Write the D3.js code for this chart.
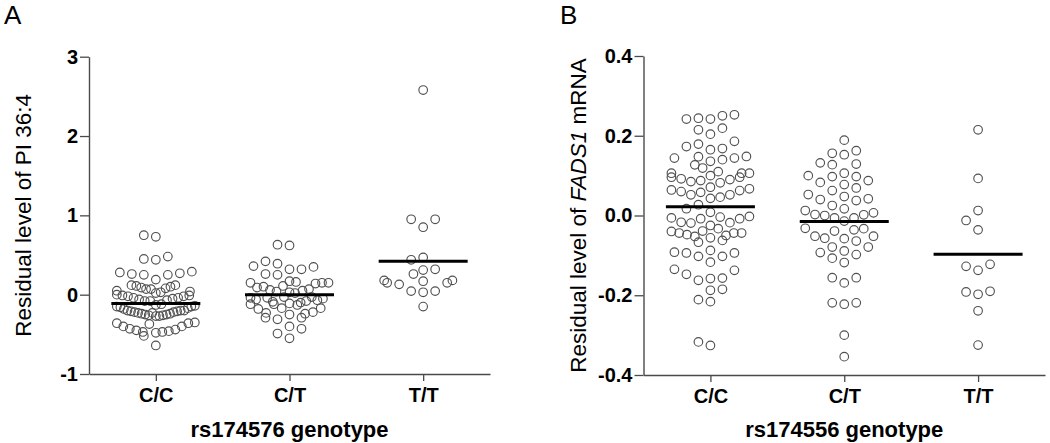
<!DOCTYPE html>
<html>
<head>
<meta charset="utf-8">
<script src="https://cdn.jsdelivr.net/npm/d3@7"></script>
<style>
  html, body { margin: 0; padding: 0; background: #fff; }
  svg { display: block; }
  text { font-family: "Liberation Sans", Arial, sans-serif; }
</style>
</head>
<body>
<svg id="chart" width="1050" height="443"></svg>
<script>
// ---------- data ----------
const categories = ["C/C", "C/T", "T/T"];

// Panel A: residual level of PI 36:4 by rs174576 genotype
const piCC = [
  0.75, 0.73,
  0.48, 0.44, 0.45,
  0.29, 0.27, 0.26, 0.25, 0.25, 0.19, 0.28,
  0.12, 0.11, 0.09, 0.08, 0.07, 0.05, 0.03, 0.02, 0.00, 0.04, 0.07, 0.10, 0.12,
  -0.01, -0.02, -0.04, -0.05, -0.07, -0.08, -0.08, -0.06, -0.04, -0.02, -0.01,
  -0.12, -0.14, -0.15, -0.16, -0.17, -0.18, -0.15, -0.13,
  -0.20, -0.20, -0.21, -0.22, -0.23, -0.24, -0.25, -0.26, -0.27, -0.27, -0.26, -0.25, -0.24, -0.23, -0.22, -0.21, -0.20,
  -0.35, -0.36, -0.40, -0.43, -0.45, -0.47, -0.48, -0.47, -0.46, -0.44, -0.40, -0.37, -0.36,
  -0.52, -0.64
];
const piCT = [
  0.63, 0.62,
  0.42, 0.39, 0.36, 0.35, 0.32, 0.32, 0.26, 0.25,
  0.17, 0.16,
  0.15, 0.15, 0.10, 0.07, 0.05, 0.03, 0.02, 0.04, 0.06, 0.09, 0.11, 0.14, 0.15,
  -0.03, -0.04, -0.05, -0.07, -0.09, -0.11, -0.12, -0.13, -0.12, -0.10, -0.08, -0.06, -0.04, -0.03, -0.17,
  -0.18, -0.23, -0.25, -0.29, -0.31, -0.29, -0.24, -0.22, -0.17,
  -0.43, -0.40,
  -0.55, -0.49
];
const piTT = [
  2.58,
  0.95, 0.95, 0.85,
  0.47, 0.44,
  0.32, 0.26, 0.31,
  0.18, 0.15, 0.13, 0.045, 0.03, 0.045, 0.15, 0.17, 0.18,
  -0.15
];
const piMeans = [-0.11, 0.0, 0.42];
const piTicks = [-1, 0, 1, 2, 3];

// Panel B: residual level of FADS1 mRNA by rs174556 genotype
const fadsCC = [
  0.25, 0.242, 0.242, 0.244, 0.2525,
  0.219, 0.215, 0.204,
  0.179, 0.168, 0.165, 0.173, 0.186,
  0.1475, 0.144, 0.136, 0.119, 0.127, 0.14, 0.144, 0.148,
  0.11, 0.106,
  0.106, 0.1, 0.096, 0.09, 0.085, 0.082, 0.0875, 0.092, 0.096, 0.106,
  0.067, 0.0625, 0.058, 0.052, 0.043, 0.046, 0.052, 0.06, 0.064, 0.071,
  0.027, 0.008, -0.0025, 0.017,
  -0.004, -0.008, -0.017, -0.019, -0.033, -0.025, -0.018, -0.008, -0.006,
  -0.04, -0.044, -0.048, -0.0525, -0.0625, -0.067, -0.056, -0.05, -0.044, -0.044, -0.039,
  -0.0875, -0.092, -0.1025, -0.094, -0.1025, -0.094, -0.117,
  -0.1375, -0.135, -0.1475, -0.1625, -0.158, -0.157,
  -0.185, -0.1875,
  -0.211, -0.216,
  -0.326, -0.317
];
const fadsCT = [
  0.189,
  0.156, 0.1625, 0.1525,
  0.1275, 0.132, 0.129,
  0.1, 0.0975, 0.0975, 0.106, 0.083, 0.0875, 0.069, 0.0775, 0.0625,
  0.0475, 0.04, 0.0375, 0.042, 0.0525, 0.025,
  0.0125, 0.0017, 0.0, -0.006, 0.0025, 0.0067, 0.0167, -0.006, -0.014,
  -0.033, -0.039, -0.036, -0.032, -0.052, -0.058, -0.064, -0.057, -0.052,
  -0.089, -0.079, -0.098, -0.079, -0.107, -0.093, -0.118,
  -0.156, -0.169, -0.156,
  -0.219, -0.2225, -0.219,
  -0.30, -0.354
];
const fadsTT = [
  0.215, 0.093,
  0.0125, -0.0125, -0.036,
  -0.1275, -0.1375, -0.1225,
  -0.19, -0.1975, -0.1917,
  -0.239, -0.325
];
const fadsMeans = [0.022, -0.015, -0.097];
const fadsTicks = [-0.4, -0.2, 0.0, 0.2, 0.4];

// ---------- drawing ----------
const svg = d3.select("#chart");

// Prism-like scatter-dot layout: sorted values fill slots 0,-1,+1,-2,+2...
// a slot is free once the new point is far enough vertically from its last occupant;
// each "row" (started by a slot-0 point) is compressed to fit the column width.
function swarm(values, y, minDy, slot, halfW) {
  const pts = values.map(v => ({ v })).sort((a, b) => a.v - b.v);
  const last = new Map();
  const rows = [];
  let cur = null;
  for (const p of pts) {
    p.py = y(p.v);
    let i = 0, k = 0;
    while (true) {
      k = i === 0 ? 0 : (i % 2 === 1 ? -Math.ceil(i / 2) : Math.ceil(i / 2));
      const l = last.get(k);
      if (l === undefined || Math.abs(l - p.py) >= minDy) break;
      i++;
    }
    last.set(k, p.py);
    p.k = k;
    if (k === 0 || cur === null) { cur = []; rows.push(cur); }
    cur.push(p);
  }
  rows.forEach(r => {
    const m = d3.max(r, p => Math.abs(p.k));
    const s = m ? Math.min(slot, halfW / m) : slot;
    r.forEach(p => { p.dx = p.k * s; });
  });
  return pts;
}

function panel(cfg) {
  const g = svg.append("g");
  const x = d3.scalePoint().domain(categories).range(cfg.xRange).padding(0.5);
  const y = d3.scaleLinear().domain(cfg.yDomain).range(cfg.yRange);

  // y axis
  const ya = g.append("g")
    .attr("transform", `translate(${cfg.xRange[0]},0)`)
    .call(d3.axisLeft(y).tickValues(cfg.ticks).tickSize(9).tickSizeOuter(0)
      .tickPadding(2).tickFormat(cfg.fmt));
  // x axis
  const xa = g.append("g")
    .attr("transform", `translate(0,${cfg.yRange[0]})`)
    .call(d3.axisBottom(x).tickSize(7).tickSizeOuter(0).tickPadding(7));
  [ya, xa].forEach(a => {
    a.select(".domain").attr("stroke", "#4a4a4a").attr("stroke-width", 1.4);
    a.selectAll(".tick line").attr("stroke", "#4a4a4a").attr("stroke-width", 1.3);
    a.selectAll(".tick text")
      .attr("fill", "#000")
      .style("font-size", "20px")
      .style("font-weight", "bold")
      .style("font-family", "'Liberation Sans', Arial, sans-serif");
  });

  // points
  cfg.groups.forEach((vals, i) => {
    const cx = x(categories[i]);
    const pts = swarm(vals, y, 11, 12, 39);
    g.append("g").selectAll("circle").data(pts).join("circle")
      .attr("cx", d => cx + d.dx)
      .attr("cy", d => d.py)
      .attr("r", 4.3)
      .attr("fill", "none")
      .attr("stroke", "#505050")
      .attr("stroke-width", 1.15);
  });

  // mean lines
  g.append("g").selectAll("line").data(cfg.means).join("line")
    .attr("x1", (d, i) => x(categories[i]) - 44.5)
    .attr("x2", (d, i) => x(categories[i]) + 44.5)
    .attr("y1", d => y(d))
    .attr("y2", d => y(d))
    .attr("stroke", "#000")
    .attr("stroke-width", 3);

  // x-axis title
  g.append("text")
    .attr("x", (cfg.xRange[0] + cfg.xRange[1]) / 2)
    .attr("y", 437)
    .attr("text-anchor", "middle")
    .style("font-size", "22px")
    .style("font-weight", "bold")
    .text(cfg.xTitle);

  // y-axis title
  const yt = g.append("text")
    .attr("transform", `translate(${cfg.yTitleX},${(cfg.yRange[0] + cfg.yRange[1]) / 2}) rotate(-90)`)
    .attr("text-anchor", "middle")
    .style("font-size", "22.5px");
  cfg.yTitle.forEach(part => {
    yt.append("tspan").style("font-style", part.italic ? "italic" : "normal").text(part.t);
  });

  // panel letter
  g.append("text")
    .attr("x", cfg.letterX)
    .attr("y", 24)
    .style("font-size", "26px")
    .text(cfg.letter);
}

panel({
  letter: "A", letterX: 4,
  xRange: [89, 490], yRange: [374, 56.7], yDomain: [-1, 3],
  ticks: piTicks, fmt: d => String(d),
  groups: [piCC, piCT, piTT], means: piMeans,
  xTitle: "rs174576 genotype",
  yTitle: [{ t: "Residual level of PI 36:4" }],
  yTitleX: 31
});

panel({
  letter: "B", letterX: 560,
  xRange: [643.5, 1045], yRange: [375, 56], yDomain: [-0.4, 0.4],
  ticks: fadsTicks, fmt: d => d.toFixed(1),
  groups: [fadsCC, fadsCT, fadsTT], means: fadsMeans,
  xTitle: "rs174556 genotype",
  yTitle: [{ t: "Residual level of " }, { t: "FADS1", italic: true }, { t: " mRNA" }],
  yTitleX: 586
});
</script>
</body>
</html>
